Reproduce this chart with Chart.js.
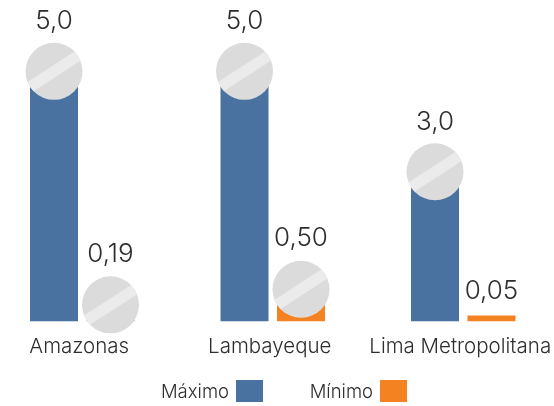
<!DOCTYPE html>
<html>
<head>
    <meta charset="utf-8">
    <title>Máximo y mínimo</title>
    <script src="https://cdn.jsdelivr.net/npm/chart.js"></script>
    <style>
        html, body { margin: 0; padding: 0; background: #fff; overflow: hidden; }
        body { position: relative; width: 554px; height: 406px; }
        #regionChart { position: absolute; left: -13px; top: 0; }
        .legend-item {
            position: absolute; top: 380px; height: 22px; line-height: 24px;
            font: 300 18.5px Inter, "Noto Sans", sans-serif; color: #2e2e2e;
            text-align: right; white-space: nowrap;
        }
        .legend-box { position: absolute; top: 0; width: 27px; height: 22px; }
    </style>
</head>
<body>
    <canvas id="regionChart" width="585" height="406"></canvas>
    <div id="legend"></div>

    <script>
        const regions = ['Amazonas', 'Lambayeque', 'Lima Metropolitana'];
        const maximo = [5.0, 5.0, 3.0];
        const minimo = [0.19, 0.50, 0.05];
        const maximoLabels = ['5,0', '5,0', '3,0'];
        const minimoLabels = ['0,19', '0,50', '0,05'];
        const minimoHasPill = [true, true, false];

        const textColor = '#2e2e2e';
        const blue = '#4a72a0';
        const orange = '#f58220';
        const fontName = 'Inter, "Noto Sans", sans-serif';

        // grey tablet with a diagonal stripe, sits on top of the bar
        function drawPill(ctx, x, y) {
            const r = 28.5;
            ctx.save();
            ctx.beginPath();
            ctx.arc(x, y, r, 0, Math.PI * 2);
            ctx.fillStyle = '#dbdbdb';
            ctx.fill();
            ctx.clip();
            ctx.translate(x, y);
            ctx.rotate(-33 * Math.PI / 180);
            ctx.fillStyle = '#ebebeb';
            ctx.fillRect(-r - 1, -5.5, r * 2 + 2, 11);
            ctx.restore();
        }

        const pillsAndLabels = {
            id: 'pillsAndLabels',
            afterDatasetsDraw(chart) {
                const ctx = chart.ctx;
                const maxBars = chart.getDatasetMeta(0).data;
                const minBars = chart.getDatasetMeta(1).data;
                ctx.save();
                ctx.textAlign = 'center';
                ctx.textBaseline = 'middle';
                ctx.fillStyle = textColor;
                ctx.font = '300 26px ' + fontName;
                maxBars.forEach((bar, i) => {
                    drawPill(ctx, bar.x, bar.y + 1);
                    ctx.fillText(maximoLabels[i], bar.x, bar.y - 49);
                });
                minBars.forEach((bar, i) => {
                    if (minimoHasPill[i]) {
                        drawPill(ctx, bar.x, bar.y - 7);
                        ctx.fillText(minimoLabels[i], bar.x, bar.y - 58);
                    } else {
                        ctx.fillText(minimoLabels[i], bar.x, bar.y - 24);
                    }
                });
                ctx.restore();
            }
        };

        const chart = new Chart(document.getElementById('regionChart'), {
            type: 'bar',
            data: {
                labels: regions,
                datasets: [
                    { label: 'Máximo', data: maximo, backgroundColor: blue },
                    { label: 'Mínimo', data: minimo, backgroundColor: orange, minBarLength: 6 }
                ]
            },
            options: {
                responsive: false,
                animation: false,
                categoryPercentage: 0.593,
                barPercentage: 0.85,
                layout: { padding: { left: 0, right: 13.5, top: 0, bottom: 42 } },
                scales: {
                    x: {
                        grid: { display: false },
                        border: { display: false },
                        ticks: {
                            color: textColor,
                            font: { family: fontName, size: 20.5, weight: 300 },
                            maxRotation: 0,
                            autoSkip: false,
                            padding: 5,
                            labelOffset: -3
                        }
                    },
                    y: { display: false, min: 0, max: 6.4 }
                },
                plugins: {
                    tooltip: { enabled: false },
                    legend: { display: false }
                }
            },
            plugins: [pillsAndLabels]
        });

        // legend is text on the left of the colour box, built from the datasets
        const legendRight = [263, 407];
        const legendEl = document.getElementById('legend');
        chart.data.datasets.forEach((ds, i) => {
            const item = document.createElement('div');
            item.className = 'legend-item';
            item.style.right = (554 - legendRight[i] + 34) + 'px';
            item.textContent = ds.label;
            const box = document.createElement('div');
            box.className = 'legend-box';
            box.style.left = (legendRight[i] - 27) + 'px';
            box.style.top = '380px';
            box.style.background = ds.backgroundColor;
            legendEl.appendChild(item);
            legendEl.appendChild(box);
        });
    </script>
</body>
</html>
